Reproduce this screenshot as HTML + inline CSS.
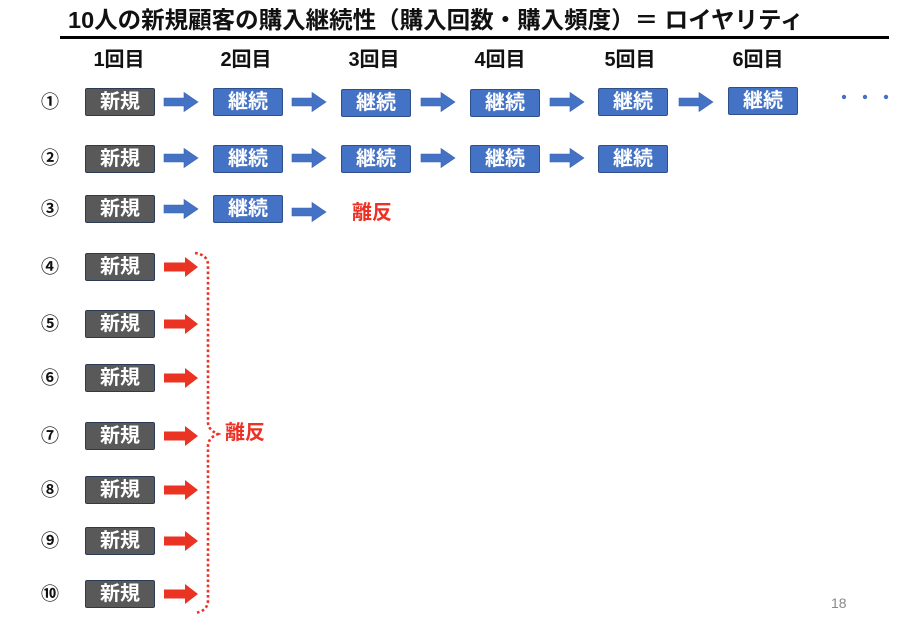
<!DOCTYPE html>
<html><head><meta charset="utf-8">
<style>
html,body{margin:0;padding:0;background:#fff;}
body{width:900px;height:625px;position:relative;overflow:hidden;font-family:"Liberation Sans","Noto Sans CJK JP",sans-serif;}
.t{position:absolute;white-space:nowrap;}
.title{left:68px;top:6px;font-size:23.5px;font-weight:bold;line-height:28px;color:#111;letter-spacing:0px;}
.rule{position:absolute;left:60px;top:36px;width:829px;height:3px;background:#000;}
.hd{position:absolute;top:48px;width:80px;margin-left:-40px;text-align:center;font-size:20px;font-weight:bold;line-height:24px;color:#111;}
.num{position:absolute;left:38px;width:24px;text-align:center;font-size:18px;line-height:22px;color:#111;font-weight:bold;}
.box{position:absolute;width:70px;height:28px;box-sizing:border-box;border-radius:2px;color:#fff;font-weight:bold;font-size:20px;line-height:26px;text-align:center;}
.n{background:#595959;border:1.5px solid #2c3a55;}
.k{background:#4472c4;border:1.5px solid #2f4f8a;}
.red{position:absolute;color:#ee3124;font-weight:bold;font-size:20px;line-height:24px;}
svg{position:absolute;left:0;top:0;}
</style></head><body>
<div class="t title">10人の新規顧客の購入継続性（購入回数・購入頻度）＝ ロイヤリティ</div>
<div class="rule"></div>

<div class="hd" style="left:119px">1回目</div>
<div class="hd" style="left:246px">2回目</div>
<div class="hd" style="left:374px">3回目</div>
<div class="hd" style="left:500px">4回目</div>
<div class="hd" style="left:630px">5回目</div>
<div class="hd" style="left:758px">6回目</div>

<div class="num" style="top:91px">①</div>
<div class="num" style="top:147px">②</div>
<div class="num" style="top:198px">③</div>
<div class="num" style="top:256px">④</div>
<div class="num" style="top:313px">⑤</div>
<div class="num" style="top:367px">⑥</div>
<div class="num" style="top:425px">⑦</div>
<div class="num" style="top:479px">⑧</div>
<div class="num" style="top:530px">⑨</div>
<div class="num" style="top:583px">⑩</div>

<!-- row 1 -->
<div class="box n" style="left:85px;top:88px">新規</div>
<div class="box k" style="left:213px;top:88px">継続</div>
<div class="box k" style="left:341px;top:89px">継続</div>
<div class="box k" style="left:470px;top:89px">継続</div>
<div class="box k" style="left:598px;top:88px">継続</div>
<div class="box k" style="left:728px;top:87px">継続</div>
<!-- row 2 -->
<div class="box n" style="left:85px;top:145px">新規</div>
<div class="box k" style="left:213px;top:145px">継続</div>
<div class="box k" style="left:341px;top:145px">継続</div>
<div class="box k" style="left:470px;top:145px">継続</div>
<div class="box k" style="left:598px;top:145px">継続</div>
<!-- row 3 -->
<div class="box n" style="left:85px;top:195px">新規</div>
<div class="box k" style="left:213px;top:195px">継続</div>
<div class="red" style="left:352px;top:201px">離反</div>
<!-- rows 4-10 -->
<div class="box n" style="left:85px;top:253px">新規</div>
<div class="box n" style="left:85px;top:310px">新規</div>
<div class="box n" style="left:85px;top:364px">新規</div>
<div class="box n" style="left:85px;top:422px">新規</div>
<div class="box n" style="left:85px;top:476px">新規</div>
<div class="box n" style="left:85px;top:527px">新規</div>
<div class="box n" style="left:85px;top:580px">新規</div>

<div class="red" style="left:225px;top:421px">離反</div>

<svg width="900" height="625" viewBox="0 0 900 625">
  <defs>
    <path id="ab" d="M0,-4 L20,-4 L20,-9.5 L34,0 L20,9.5 L20,4 L0,4 Z"/>
    <path id="ar" d="M0,-4.5 L21,-4.5 L21,-10 L34,0 L21,10 L21,4.5 L0,4.5 Z"/>
  </defs>
  <g fill="#4472c4" stroke="#3b64b0" stroke-width="0.6">
    <use href="#ab" transform="translate(164,102)"/>
    <use href="#ab" transform="translate(292,102)"/>
    <use href="#ab" transform="translate(421,102)"/>
    <use href="#ab" transform="translate(550,102)"/>
    <use href="#ab" transform="translate(679,102)"/>
    <use href="#ab" transform="translate(164,158)"/>
    <use href="#ab" transform="translate(292,158)"/>
    <use href="#ab" transform="translate(421,158)"/>
    <use href="#ab" transform="translate(550,158)"/>
    <use href="#ab" transform="translate(164,209)"/>
    <use href="#ab" transform="translate(292,212)"/>
  </g>
  <g fill="#4472c4">
    <circle cx="844" cy="97" r="2.2"/>
    <circle cx="865" cy="97" r="2.2"/>
    <circle cx="886" cy="97" r="2.2"/>
  </g>
  <g fill="#ea3323">
    <use href="#ar" transform="translate(164,267)"/>
    <use href="#ar" transform="translate(164,324)"/>
    <use href="#ar" transform="translate(164,378)"/>
    <use href="#ar" transform="translate(164,436)"/>
    <use href="#ar" transform="translate(164,490)"/>
    <use href="#ar" transform="translate(164,541)"/>
    <use href="#ar" transform="translate(164,594)"/>
  </g>
  <path d="M195,253 Q208,255 208,265 L208,422 Q208,430 218,434 Q208,438 208,446 L208,600 Q208,611 195,613"
        fill="none" stroke="#ee3124" stroke-width="2.6" stroke-dasharray="2.6 2.6"/>
</svg>

<div class="t" style="left:831px;top:595px;font-size:14px;line-height:16px;color:#888;">18</div>
</body></html>
